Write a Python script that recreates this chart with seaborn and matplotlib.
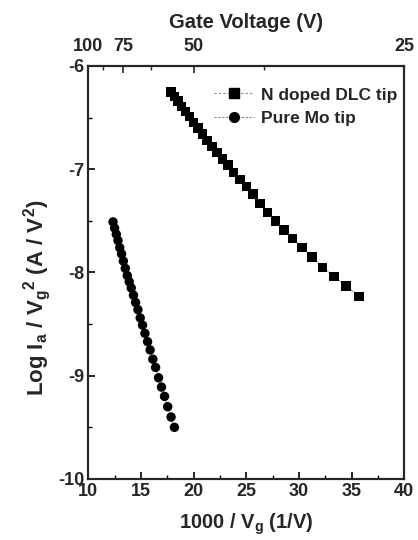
import numpy as np
import pandas as pd
import matplotlib
matplotlib.use("Agg")
import matplotlib.pyplot as plt
from matplotlib.lines import Line2D
from matplotlib.ticker import MultipleLocator, FixedLocator
import seaborn as sns

# ---- data ----
dlc_x = [17.86, 18.18, 18.52, 18.87, 19.23, 19.61, 20.00, 20.41, 20.83, 21.28,
         21.74, 22.22, 22.73, 23.26, 23.81, 24.39, 25.00, 25.64, 26.32, 27.03,
         27.78, 28.57, 29.41, 30.30, 31.25, 32.26, 33.33, 34.48, 35.71]
dlc_y = [-6.25, -6.295, -6.34, -6.39, -6.44, -6.49, -6.55, -6.60, -6.66, -6.72,
         -6.78, -6.84, -6.90, -6.96, -7.03, -7.10, -7.17, -7.24, -7.33, -7.42,
         -7.50, -7.59, -7.67, -7.76, -7.85, -7.95, -8.04, -8.13, -8.23]

mo_x = [12.35, 12.50, 12.66, 12.82, 12.99, 13.16, 13.33, 13.51, 13.70, 13.89,
        14.08, 14.29, 14.49, 14.71, 14.93, 15.15, 15.38, 15.63, 15.87, 16.13,
        16.39, 16.67, 16.95, 17.24, 17.54, 17.86, 18.18]
mo_y = [-7.51, -7.57, -7.63, -7.69, -7.76, -7.82, -7.89, -7.96, -8.03, -8.09,
        -8.15, -8.22, -8.29, -8.36, -8.44, -8.51, -8.59, -8.67, -8.75, -8.84,
        -8.92, -9.02, -9.11, -9.20, -9.30, -9.40, -9.50]

series_names = ["N doped DLC tip", "Pure Mo tip"]
x_ticks = [10, 15, 20, 25, 30, 35, 40]
y_ticks = [-10, -9, -8, -7, -6]
top_tick_labels = [100, 75, 50, 25]
top_minor_labels = [87.5, 62.5, 37.5]

df = pd.concat([
    pd.DataFrame({"x": dlc_x, "y": dlc_y, "tip": series_names[0]}),
    pd.DataFrame({"x": mo_x, "y": mo_y, "tip": series_names[1]}),
], ignore_index=True)

sns.set_style("ticks")
plt.rcParams["font.family"] = ["Liberation Sans", "DejaVu Sans"]
plt.rcParams["font.weight"] = "bold"
plt.rcParams["axes.labelweight"] = "bold"
plt.rcParams["xtick.direction"] = "in"
plt.rcParams["ytick.direction"] = "in"
plt.rcParams["mathtext.default"] = "regular"

fig = plt.figure(figsize=(4.18, 5.40), dpi=100)
ax = fig.add_axes([0.2112, 0.113, 0.7560, 0.7648])

# thin grey connecting lines
sns.lineplot(data=df, x="x", y="y", units="tip", estimator=None, sort=False,
             color="#888888", lw=0.6, ax=ax, legend=False)
# markers
markers = {series_names[0]: "s", series_names[1]: "o"}
sns.scatterplot(data=df, x="x", y="y", style="tip", markers=markers,
                color="black", s=46, edgecolor="black", linewidth=0, ax=ax,
                legend=False, zorder=3)

ax.set_xlim(10, 40)
ax.set_ylim(-10, -6)
ax.xaxis.set_major_locator(FixedLocator(x_ticks))
ax.xaxis.set_minor_locator(MultipleLocator(2.5))
ax.yaxis.set_major_locator(FixedLocator(y_ticks))
ax.yaxis.set_minor_locator(MultipleLocator(0.5))
ax.set_xticklabels([str(t) for t in x_ticks])
ax.set_yticklabels([str(t) for t in y_ticks])
ax.tick_params(axis="x", which="major", length=5, width=1.2, labelsize=13,
               color="black", pad=3)
ax.tick_params(axis="y", which="major", length=5, width=1.2, labelsize=13,
               color="black", pad=3)
ax.tick_params(which="minor", length=3, width=1.0, color="black")
for lab in ax.get_xticklabels() + ax.get_yticklabels():
    lab.set_fontweight("bold")
for sp in ax.spines.values():
    sp.set_linewidth(1.5)
    sp.set_color("black")

ax.set_xlabel("1000 / V$_g$ (1/V)", fontsize=14.5, fontweight="bold",
              labelpad=8)
ax.set_ylabel("Log I$_a$ / V$_g$$^2$ (A / V$^2$)", fontsize=16,
              fontweight="bold")
ax.yaxis.set_label_coords(-0.112, 0.44)

# top axis: gate voltage
ax2 = ax.twiny()
ax2.set_xlim(ax.get_xlim())
ax2.xaxis.set_major_locator(FixedLocator([1000 / v for v in top_tick_labels]))
ax2.xaxis.set_minor_locator(FixedLocator([1000 / v for v in top_minor_labels]))
ax2.set_xticklabels([str(v) for v in top_tick_labels])
ax2.tick_params(which="major", direction="in", length=5, width=1.2,
                labelsize=13, pad=8)
ax2.tick_params(which="minor", direction="in", length=3, width=1.0)
for lab in ax2.get_xticklabels():
    lab.set_fontweight("bold")
ax2.set_xlabel("Gate Voltage (V)", fontsize=14.5, fontweight="bold",
               labelpad=7)
for sp in ax2.spines.values():
    sp.set_linewidth(1.5)

handles = [
    Line2D([], [], color="#888888", lw=0.8, ls=(0, (2, 2)), marker="s",
           markersize=7, markerfacecolor="black", markeredgecolor="black"),
    Line2D([], [], color="#888888", lw=0.8, ls=(0, (2, 1.5)), marker="o",
           markersize=7, markerfacecolor="black", markeredgecolor="black"),
]
leg = ax.legend(handles, series_names, loc="upper right", frameon=False,
                fontsize=12.5, handlelength=2.3, handletextpad=0.4,
                labelspacing=0.5, borderaxespad=0.0,
                bbox_to_anchor=(1.0, 0.965))
for t in leg.get_texts():
    t.set_fontweight("bold")

fig.savefig("out.png", dpi=100)
